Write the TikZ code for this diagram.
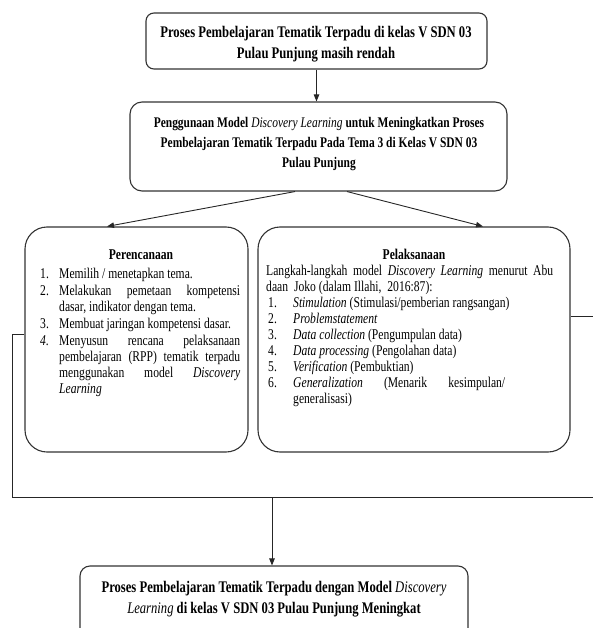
\documentclass[tikz,border=0pt]{standalone}
\usepackage{fontspec}
\setmainfont{Liberation Serif}[FakeStretch=0.78]
\usetikzlibrary{arrows.meta}
\newcommand\FtTop{\fontsize{16.2}{21}\selectfont\bfseries}
\newcommand\FtMid{\fontsize{14.7}{20}\selectfont\bfseries}
\newcommand\FtList{\fontsize{14.9}{16}\selectfont}
\begin{document}
\begin{tikzpicture}[x=1pt,y=-1pt,
  box/.style={draw=black!80, line width=1.1pt, inner sep=0pt},
  conn/.style={draw=black!85, line width=0.9pt},
  arr/.style={conn, -{Triangle[length=7pt,width=5.5pt]}},
  txt/.style={inner sep=0pt, align=center},
  lst/.style={inner sep=0pt, align=left, anchor=north west, font=\FtList}
]
\useasboundingbox (0,0) rectangle (593,628);
\clip (0,0) rectangle (593,628);

% boxes
\node[box, rounded corners=8pt, minimum width=341pt, minimum height=56pt] (top) at (316.5,41) {};
\node[box, rounded corners=12pt, minimum width=377pt, minimum height=89pt] (mid) at (318.5,146.5) {};
\node[box, rounded corners=22pt, minimum width=223pt, minimum height=225pt] (L) at (136.5,339.5) {};
\node[box, rounded corners=22pt, minimum width=312pt, minimum height=225pt] (R) at (414,339.5) {};
\node[box, rounded corners=10pt, minimum width=388pt, minimum height=74pt] (bot) at (274,603) {};

% texts
\node[txt, anchor=north, font=\FtTop] (toptext) at (316,25.8)
  {Proses Pembelajaran Tematik Terpadu di kelas V SDN 03\\Pulau Punjung masih rendah};
\node[txt, anchor=north, font=\FtMid] (midtext) at (319,116.9)
  {Penggunaan Model {\mdseries\itshape Discovery Learning} untuk Meningkatkan Proses\\
   Pembelajaran Tematik Terpadu Pada Tema 3 di Kelas V SDN 03\\Pulau Punjung};
\node[txt, anchor=north, font=\FtTop] (bottext) at (274,580.8)
  {Proses Pembelajaran Tematik Terpadu dengan Model {\mdseries\itshape Discovery}\\
   {\mdseries\itshape Learning} di kelas V SDN 03 Pulau Punjung Meningkat};

\node[inner sep=0pt, anchor=base, font=\FtList\bfseries] (perenc) at (141,259) {Perencanaan};
\node[inner sep=0pt, anchor=base, font=\FtList\bfseries] (pelak) at (414,259) {Pelaksanaan};

\node[lst] (Llist) at (40,267.5) {%
\makebox[19pt][l]{1.}Memilih / menetapkan tema.\\[1pt]
\makebox[19pt][l]{2.}\makebox[181pt][s]{Melakukan pemetaan kompetensi}\\
\makebox[19pt][l]{}dasar, indikator dengan tema.\\[1pt]
\makebox[19pt][l]{3.}Membuat jaringan kompetensi dasar.\\[1pt]
\makebox[19pt][l]{\textit{4.}}\makebox[181pt][s]{Menyusun rencana pelaksanaan}\\
\makebox[19pt][l]{}\makebox[181pt][s]{pembelajaran (RPP) tematik terpadu}\\
\makebox[19pt][l]{}\makebox[181pt][s]{menggunakan model \textit{Discovery}}\\
\makebox[19pt][l]{}\textit{Learning}};

\node[lst] (Rlist) at (266,265) {%
\makebox[287pt][s]{Langkah-langkah model \textit{Discovery Learning} menurut Abu}\\
daan\hspace{3pt} Joko (dalam Illahi,\hspace{3pt} 2016:87):\\
\hspace{2pt}\makebox[25pt][l]{1.}\textit{Stimulation} (Stimulasi/pemberian rangsangan)\\
\hspace{2pt}\makebox[25pt][l]{2.}\textit{Problemstatement}\\
\hspace{2pt}\makebox[25pt][l]{3.}\textit{Data collection} (Pengumpulan data)\\
\hspace{2pt}\makebox[25pt][l]{4.}\textit{Data processing} (Pengolahan data)\\
\hspace{2pt}\makebox[25pt][l]{5.}\textit{Verification} (Pembuktian)\\
\hspace{2pt}\makebox[25pt][l]{6.}\makebox[212pt][s]{\textit{Generalization} (Menarik kesimpulan/}\\
\hspace{2pt}\makebox[25pt][l]{}generalisasi)};

% connectors
\draw[arr] (top.south) -- (top.south |- mid.north);
\draw[arr] ([xshift=-23.5pt]mid.south) -- ([xshift=-29.5pt]L.north);
\draw[arr] ([xshift=28.5pt]mid.south) -- ([xshift=69pt]R.north);

\coordinate (fbL) at (12,497);
\coordinate (fbR) at (600,497);
\coordinate (drop) at (272,497);
\draw[conn] ([yshift=5pt]L.west) -| (fbL) -- (fbR);
\draw[conn] ([yshift=23pt]R.east) -| (fbR);
\draw[arr] (drop) -- (drop |- bot.north);
\end{tikzpicture}
\end{document}
